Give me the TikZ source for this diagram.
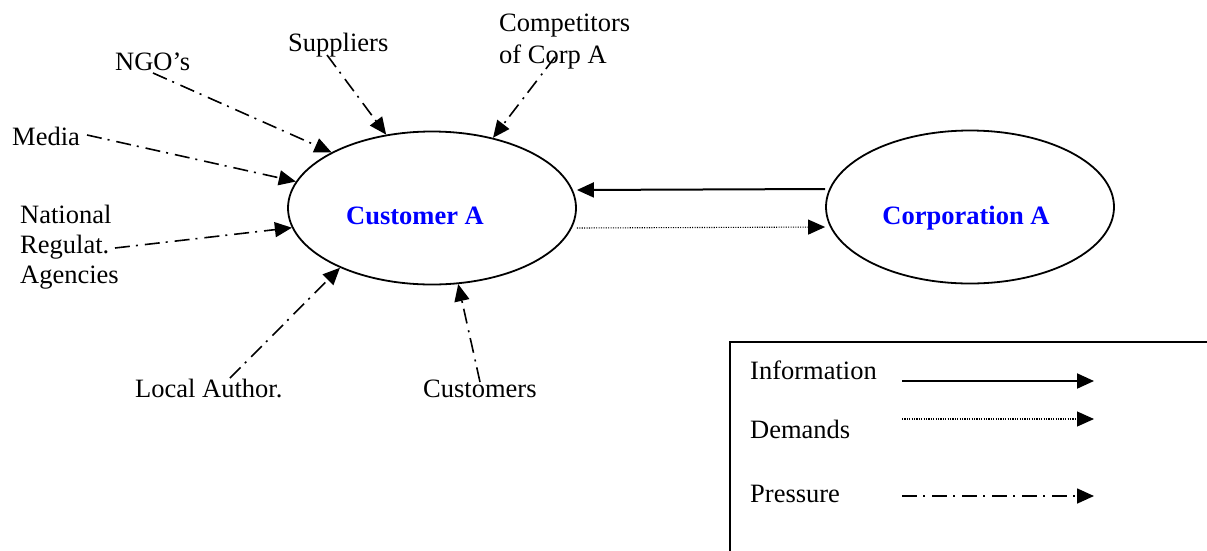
\documentclass[tikz,border=0pt]{standalone}
\usepackage{fontspec}
\setmainfont{Liberation Serif}
\usetikzlibrary{shapes.geometric,arrows.meta}

\definecolor{nodeblue}{RGB}{0,0,255}

\tikzset{
  actor/.style={ellipse, draw, line width=1.8pt, minimum width=288pt,
    minimum height=153pt, inner sep=0pt},
  title/.style={font=\fontsize{26.5}{31}\selectfont\bfseries, text=nodeblue,
    inner sep=0pt, anchor=base},
  lbl/.style={font=\fontsize{26.5}{31}\selectfont, inner sep=0pt,
    anchor=base west, align=left},
  tip/.style={-{Triangle[length=17pt,width=15pt]}},
  info/.style={tip, line width=2pt},
  demand/.style={tip, line width=1.1pt, dash pattern=on 1.1pt off 1.3pt},
  pressure/.style={tip, line width=1.6pt,
    dash pattern=on 15pt off 6pt on 2pt off 7pt},
  legendbox/.style={draw, line width=1.8pt}
}

\begin{document}
\begin{tikzpicture}[x=1pt, y=-1pt]
\useasboundingbox (0,0) rectangle (1207,550);
\clip (0,0) rectangle (1207,550);

% the two central actors
\node[actor] (cust) at (432,208) {};
\node[title] (custtxt) at (415,224) {Customer A};
\node[actor] (corp) at (970,207) {};
\node[title] (corptxt) at (966,224) {Corporation A};

% information and demands between them
\draw[info] ([yshift=18pt]corp.west) -- ([yshift=18pt]cust.east);
\draw[demand] ([yshift=-20pt]cust.east) -- ([yshift=-20pt]corp.west);

% sources of pressure
\node[lbl] (ngo) at (115,70) {NGO’s};
\node[lbl] (media) at (12,145) {Media};
\node[lbl] (sup) at (288,51) {Suppliers};
\node[lbl, anchor=north west, font=\fontsize{26.5}{32}\selectfont] (comp) at (499,13.5) {Competitors\\of Corp A};
\node[lbl, anchor=north west, font=\fontsize{26.5}{30}\selectfont] (nat) at (20,205) {National\\Regulat.\\Agencies};
\node[lbl] (local) at (135,397) {Local Author.};
\node[lbl] (custs) at (423,397) {Customers};

\coordinate (ngo-s) at (153,73);
\coordinate (media-s) at (87,135);
\coordinate (sup-s) at (327,55);
\coordinate (comp-s) at (555,57);
\coordinate (nat-s) at (115,248);
\coordinate (local-s) at (230,378);
\coordinate (custs-s) at (480,382);

\draw[pressure] (ngo-s) -- (cust.151);
\draw[pressure] (media-s) -- (cust.169);
\draw[pressure] (sup-s) -- (cust.122);
\draw[pressure] (comp-s) -- (cust.49);
\draw[pressure] (nat-s) -- (cust.188);
\draw[pressure] (local-s) -- (cust.213.5);
\draw[pressure] (custs-s) -- (cust.289.5);

% legend
\node[legendbox, minimum width=520pt, minimum height=260pt, anchor=north west,
  inner sep=0pt] (legend) at (729,341) {};
\node[lbl] (l-info) at (750,379) {Information};
\node[lbl] (l-dem) at (750,438) {Demands};
\node[lbl] (l-pres) at (750,502) {Pressure};
\coordinate (li-a) at (902,381);
\coordinate (li-b) at (1094,381);
\coordinate (ld-a) at (902,419);
\coordinate (ld-b) at (1094,419);
\coordinate (lp-a) at (902,496);
\coordinate (lp-b) at (1094,496);
\draw[info] (li-a) -- (li-b);
\draw[demand] (ld-a) -- (ld-b);
\draw[pressure] (lp-a) -- (lp-b);
\end{tikzpicture}
\end{document}
